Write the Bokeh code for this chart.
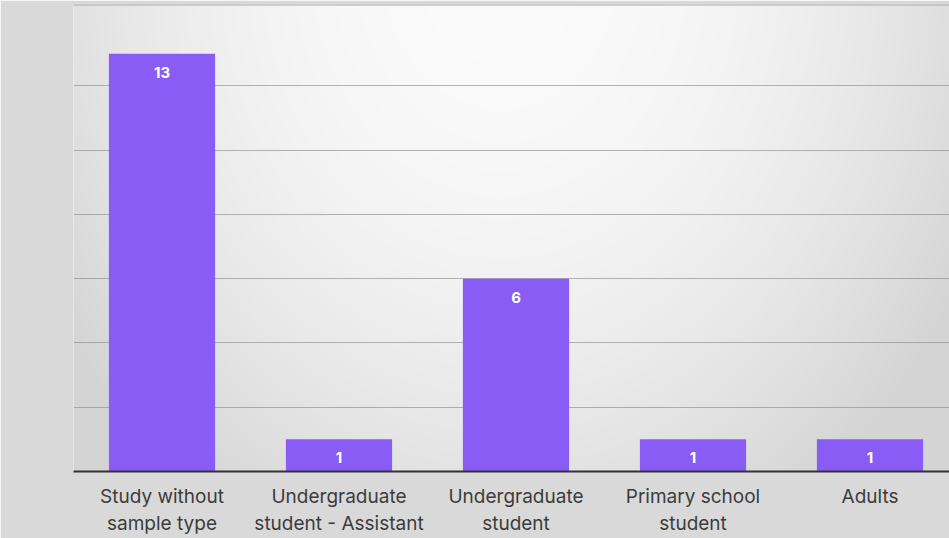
import numpy as np
from bokeh.plotting import figure
from bokeh.models import Range1d, FixedTicker, ColumnDataSource, LabelSet, Span
from bokeh.core.properties import value
from bokeh.embed import file_html
from bokeh.resources import INLINE

# ---- data ----
categories = ["Study without\nsample type", "Undergraduate\nstudent - Assistant",
              "Undergraduate\nstudent", "Primary school\nstudent", "Adults"]
counts = [13, 1, 6, 1, 1]
grid_ticks = [2, 4, 6, 8, 10, 12]

# ---- layout ----
W, H = 949, 538
LEFT, TOP, BOTTOM = 73, 4, 66
FW, FH = W - LEFT, H - TOP - BOTTOM
STEP_PX = 177.0
UNIT_PX = 32.2
x_start = -0.5
x_end = x_start + FW / STEP_PX
y_end = FH / UNIT_PX

FONT = "Inter"
BAR_COLOR = "#8A5CF6"

p = figure(width=W, height=H, output_backend="svg", toolbar_location=None,
           x_range=Range1d(x_start, x_end), y_range=Range1d(0, y_end),
           min_border_left=LEFT, min_border_right=0,
           min_border_top=TOP, min_border_bottom=BOTTOM)

p.border_fill_color = "#d9d9d9"
p.background_fill_color = "#eeeeee"
p.outline_line_color = None

# soft radial background (style only)
ny, nx = 234, 438
sx = LEFT + (np.arange(nx) + 0.5) * FW / nx
sy = (H - BOTTOM) - (np.arange(ny) + 0.5) * FH / ny
X, Y = np.meshgrid(sx, sy)
d2 = ((X - 500) / 480.0) ** 2 + ((Y + 40) / 600.0) ** 2
g = np.clip(251 - 32 * d2, 212, 251).astype(np.uint32)
img = (255 << 24) | (g << 16) | (g << 8) | g
p.image_rgba(image=[img.astype(np.uint32)], x=x_start, y=0,
             dw=x_end - x_start, dh=y_end, level="image")

# grid
p.xgrid.visible = False
p.yaxis.visible = False
p.ygrid.ticker = FixedTicker(ticks=grid_ticks)
p.ygrid.grid_line_color = "#8e8e8e"
p.ygrid.grid_line_alpha = 0.65
p.ygrid.grid_line_width = 1

# top border line
p.add_layout(Span(location=y_end, dimension="width", line_color="#a8a8a8", line_width=2))

xs = list(range(len(categories)))
src = ColumnDataSource(dict(x=xs, counts=counts, labels=[str(c) for c in counts]))
p.vbar(x="x", top="counts", width=0.6, bottom=0, source=src,
       fill_color=BAR_COLOR, line_color=None)

labels = LabelSet(x="x", y="counts", text="labels", source=src,
                  text_align="center", text_baseline="top", y_offset=-13,
                  text_color="white", text_font=value(FONT), text_font_style="bold",
                  text_font_size="15px")
p.add_layout(labels)

# x axis
p.xaxis.ticker = FixedTicker(ticks=xs)
p.xaxis.major_label_overrides = {i: c for i, c in zip(xs, categories)}
p.xaxis.major_tick_line_color = None
p.xaxis.minor_tick_line_color = None
p.xaxis.axis_line_color = "#333333"
p.xaxis.axis_line_width = 2
p.xaxis.major_label_text_font = FONT
p.xaxis.major_label_text_font_size = "19px"
p.xaxis.major_label_text_color = "#3c3c3c"
p.xaxis.major_label_standoff = 7

open("out.html", "w").write(file_html(p, INLINE))
